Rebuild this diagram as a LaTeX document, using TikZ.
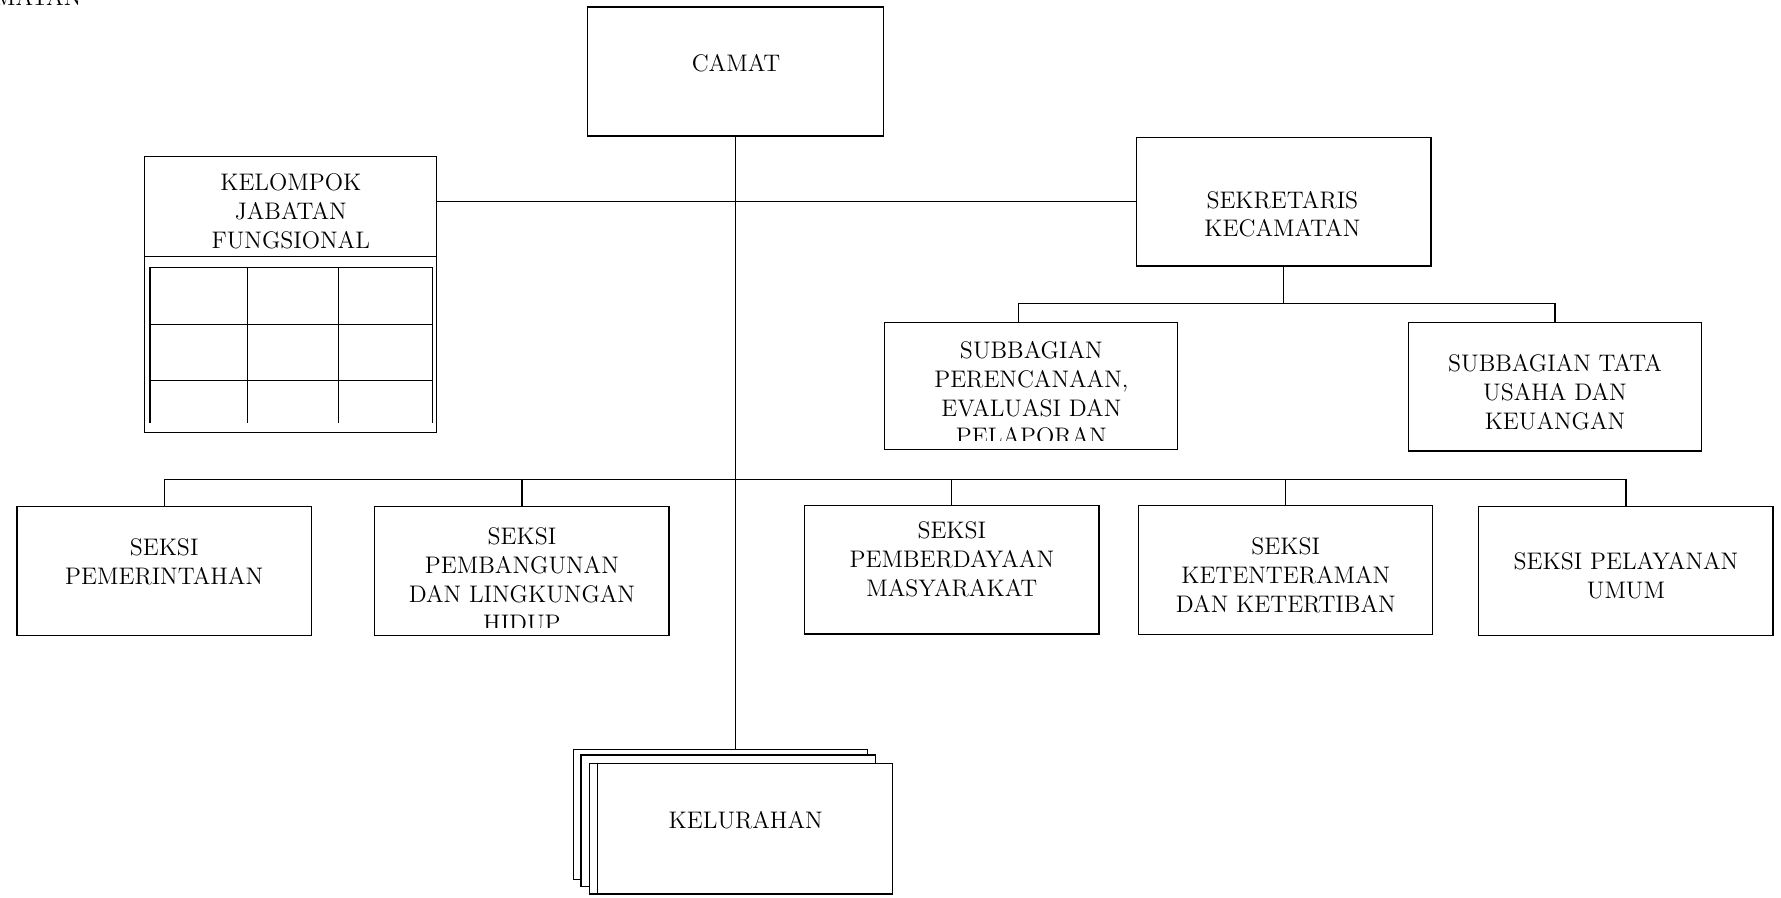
\documentclass[tikz,border=0pt]{standalone}
\usepackage{fontspec}

\begin{document}
\begin{tikzpicture}[x=1cm,y=1cm,font=\fontsize{12}{14.4}\selectfont,
 unit/.style={draw,line width=.6pt,minimum width=5.18cm,minimum height=2.27cm,inner sep=0pt},
 card/.style={unit,fill=white},
 txt/.style={align=center,inner sep=0pt},
 link/.style={line width=.6pt}]
\path[use as bounding box] (0,0) rectangle (31.36,15.8);
\node[txt,anchor=base east] (head) at (1.44,15.71) {KECAMATAN};

\node[unit,minimum width=5.2cm] (camat) at (12.95,14.54) {};
\node[txt] (camat-t) at (12.96,14.68) {CAMAT};

% functional group with its empty table
\node[unit,minimum width=5.14cm,minimum height=4.86cm] (kelompok) at (5.12,10.61) {};
\draw[link] (kelompok.west |- 0,11.28) -- (kelompok.east |- 0,11.28);
\node[txt] (kelompok-t) at (5.12,12.08) {KELOMPOK\\JABATAN\\FUNGSIONAL};
\draw[link] (2.64,8.35) |- (7.62,11.09) -- (7.62,8.35);
\foreach \y in {10.08,9.10} \draw[link] (2.64,\y) -- (7.62,\y);
\foreach \x in {4.36,5.96} \draw[link] (\x,11.09) -- (\x,8.35);

\node[unit,minimum width=5.19cm] (sekre) at (22.60,12.25) {};
\node[txt] (sekre-t) at (22.58,12.03) {SEKRETARIS\\KECAMATAN};
\draw[link] (sekre.west) -- (sekre.west -| kelompok.east);

\node[unit,minimum width=5.16cm,minimum height=2.23cm] (pev) at (18.16,9.00) {};
\node[unit,minimum width=5.16cm,minimum height=2.26cm] (tu) at (27.38,8.99) {};
\begin{scope}
 \clip (pev.north west) rectangle ([yshift=.17cm]pev.south east);
 \node[txt] (pev-t) at (18.16,8.87) {SUBBAGIAN\\PERENCANAAN,\\EVALUASI DAN\\PELAPORAN};
\end{scope}
\node[txt] (tu-t) at (27.38,8.89) {SUBBAGIAN TATA\\USAHA DAN\\KEUANGAN};
\coordinate (subbus) at (22.60,10.45);
\draw[link] (sekre.south) -- (subbus);
\draw[link] ([xshift=-.22cm]pev.north) |- (subbus) -| (tu.north);

% seksi row
\foreach \n/\x/\y in {seksiA/2.89/5.74,seksiB/9.19/5.745,seksiC/16.76/5.77,seksiD/22.64/5.76,seksiE/28.63/5.75}
 \node[unit] (\n) at (\x,\y) {};
\node[txt] (seksiA-t) at (2.89,5.91) {SEKSI\\PEMERINTAHAN};
\begin{scope}
 \clip (seksiB.north west) rectangle ([yshift=.16cm]seksiB.south east);
 \node[txt] (seksiB-t) at (9.19,5.59) {SEKSI\\PEMBANGUNAN\\DAN LINGKUNGAN\\HIDUP};
\end{scope}
\node[txt] (seksiC-t) at (16.76,5.95) {SEKSI\\PEMBERDAYAAN\\MASYARAKAT};
\node[txt] (seksiD-t) at (22.64,5.67) {SEKSI\\KETENTERAMAN\\DAN KETERTIBAN};
\node[txt] (seksiE-t) at (28.63,5.66) {SEKSI PELAYANAN\\UMUM};
\coordinate (lowbus) at (12.95,7.36);
\draw[link] (seksiA.north) |- (lowbus) -| (seksiE.north);
\foreach \n in {seksiB,seksiC,seksiD}
 \draw[link] (\n.north) -- (\n.north |- lowbus);

% stacked kelurahan cards
\node[card,minimum height=2.28cm] (lurahC) at (12.69,1.46) {};
\node[card,minimum height=2.31cm] (lurahB) at (12.82,1.35) {};
\node[card,minimum width=5.33cm,minimum height=2.30cm] (lurah) at (13.05,1.21) {};
\draw[link] ([xshift=.14cm]lurah.north west) -- ([xshift=.14cm]lurah.south west);
\node[txt] (lurah-t) at (13.13,1.36) {KELURAHAN};
\draw[link] (camat.south) -- (camat.south |- lurahC.north);
\end{tikzpicture}
\end{document}
